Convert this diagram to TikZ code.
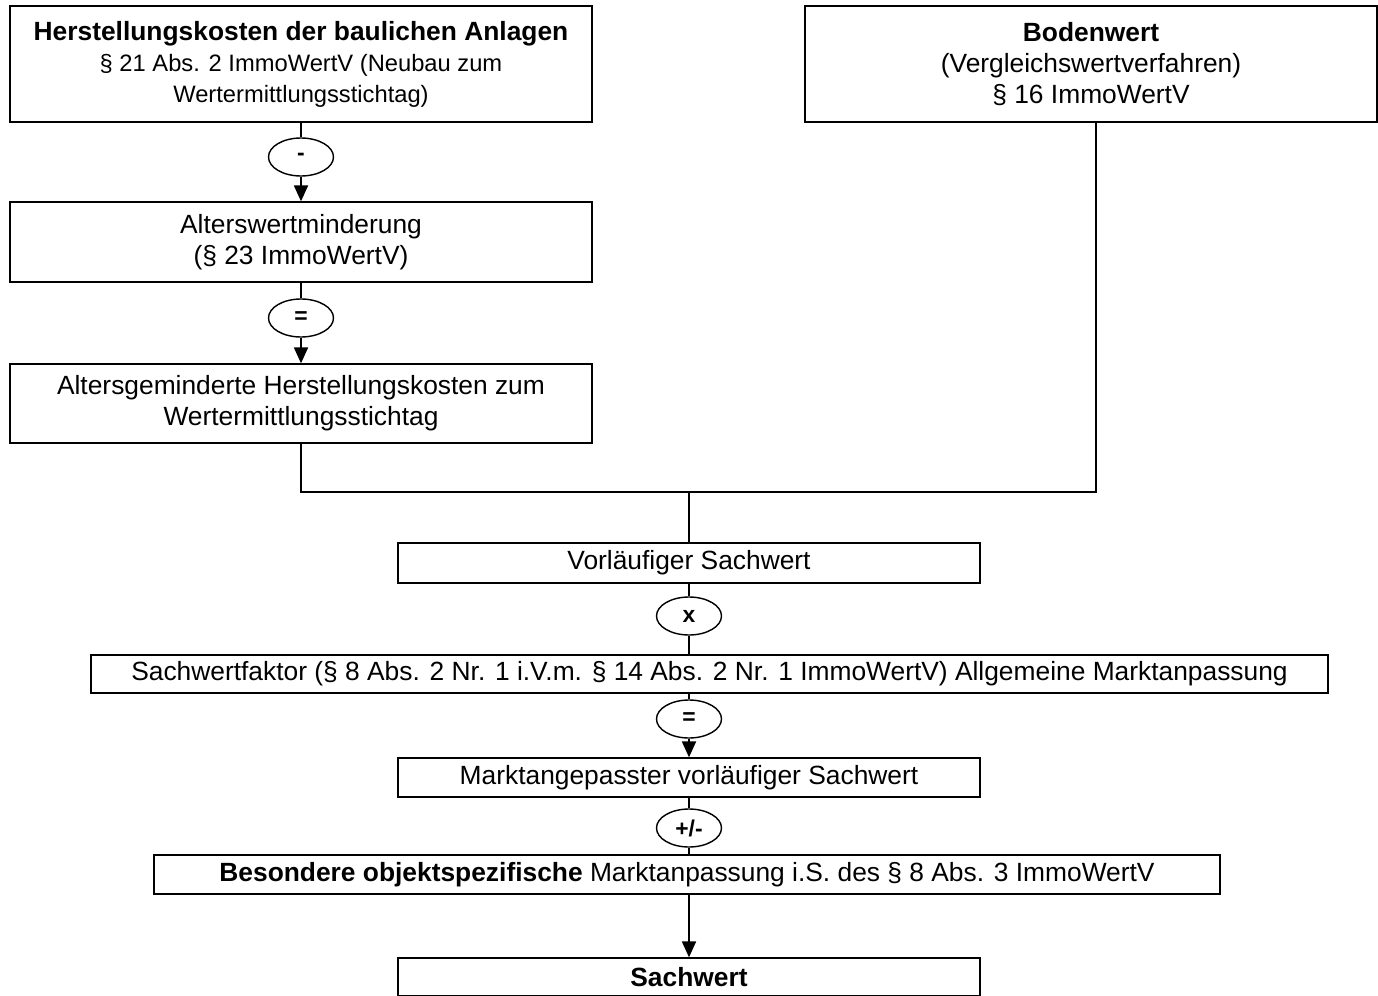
\documentclass[tikz,border=0pt]{standalone}
\usepackage{fontspec}
\setmainfont{Liberation Sans}
\usetikzlibrary{arrows.meta, shapes.geometric}

\tikzset{
  stepbox/.style={draw, rectangle, align=center, inner sep=0pt},
  opsign/.style={draw, ellipse, minimum width=1.30cm, minimum height=0.76cm,
                 inner sep=0pt, font=\fontsize{13pt}{15pt}\selectfont\bfseries},
  flow/.style={-{Triangle[length=9pt, width=8pt]}},
}
\newcommand{\smalltext}{\fontsize{13.5pt}{16.5pt}\selectfont}

\begin{document}
\begin{tikzpicture}[line width=0.8pt, font=\fontsize{15pt}{17.6pt}\selectfont]

\useasboundingbox (0,0) rectangle (27.56,-19.92);

% ============================================================
%  LEFT BRANCH  --  building costs
% ============================================================

\node[stepbox, minimum width=11.64cm, minimum height=2.32cm] (hk) at (6.02,-1.28)
  {\textbf{Herstellungskosten der baulichen Anlagen}\\
   \smalltext \S\ 21 Abs. 2 ImmoWertV (Neubau zum\\
   \smalltext Wertermittlungsstichtag)};
\node[opsign] (minus) at (6.02,-3.14) {-};
\node[stepbox, minimum width=11.64cm, minimum height=1.60cm] (awm) at (6.02,-4.84)
  {Alterswertminderung\\(\S\ 23 ImmoWertV)};
\node[opsign] (eqa) at (6.02,-6.36) {=};
\node[stepbox, minimum width=11.64cm, minimum height=1.58cm] (ahk) at (6.02,-8.07)
  {Altersgeminderte Herstellungskosten zum\\Wertermittlungsstichtag};

\draw (hk) -- (minus);
\draw[flow] (minus) -- (awm);
\draw (awm) -- (eqa);
\draw[flow] (eqa) -- (ahk);

% ============================================================
%  RIGHT BRANCH  --  land value
% ============================================================

\node[stepbox, minimum width=11.44cm, minimum height=2.32cm] (bw) at (21.82,-1.28)
  {\textbf{Bodenwert}\\(Vergleichswertverfahren)\\\S\ 16 ImmoWertV};

% ---- joining both branches ----
\coordinate (join) at (13.78,-9.84);
\draw (ahk.south) |- (join) -| ([xshift=0.1cm]bw.south);

% ============================================================
%  MAIN CHAIN
% ============================================================

\node[stepbox, minimum width=11.64cm, minimum height=0.80cm] (vsw) at (13.78,-11.26)
  {Vorläufiger Sachwert};
\node[opsign] (times) at (13.78,-12.32) {x};
\node[stepbox, minimum width=24.74cm, minimum height=0.76cm] (swf) at (14.19,-13.48)
  {Sachwertfaktor (\S\ 8 Abs. 2 Nr. 1 i.V.m. \S\ 14 Abs. 2 Nr. 1 ImmoWertV) Allgemeine Marktanpassung};
\node[opsign] (eqb) at (13.78,-14.38) {=};
\node[stepbox, minimum width=11.64cm, minimum height=0.78cm] (msw) at (13.78,-15.55)
  {Marktangepasster vorläufiger Sachwert};
\node[opsign] (pm) at (13.78,-16.56) {+/-};
\node[stepbox, minimum width=21.32cm, minimum height=0.78cm] (bom) at (13.74,-17.49)
  {\textbf{Besondere objektspezifische} Marktanpassung i.S. des \S\ 8 Abs. 3 ImmoWertV};
\node[stepbox, minimum width=11.64cm, minimum height=0.76cm] (sw) at (13.78,-19.54)
  {\textbf{Sachwert}};

\draw (join) -- (vsw);
\draw (vsw) -- (times);
\draw (times) -- (times |- swf.north);
\draw (eqb |- swf.south) -- (eqb);
\draw[flow] (eqb) -- (msw);
\draw (msw) -- (pm);
\draw (pm) -- (pm |- bom.north);
\draw[flow] (sw |- bom.south) -- (sw);

\end{tikzpicture}
\end{document}
